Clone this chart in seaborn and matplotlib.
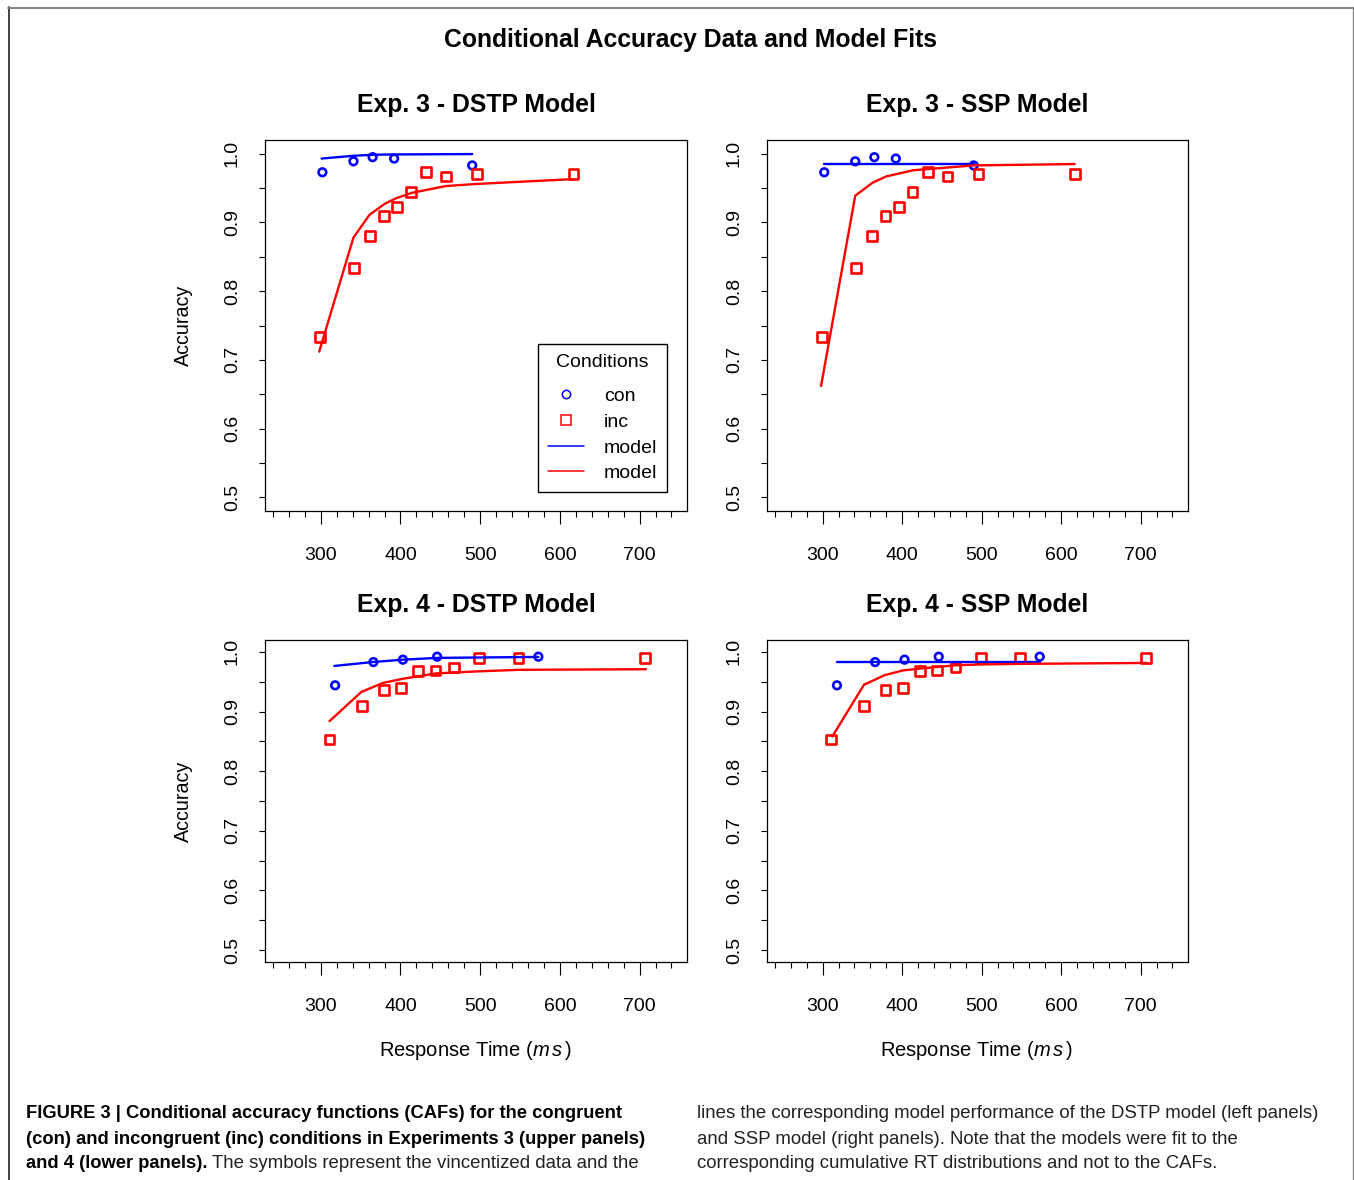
import numpy as np
import pandas as pd
import matplotlib
matplotlib.use("Agg")
import matplotlib.pyplot as plt
from matplotlib.lines import Line2D
from matplotlib.ticker import MultipleLocator, FixedLocator
import seaborn as sns

# ----------------------------------------------------------------------------
# Values (RT in ms, accuracy as proportion)
# ----------------------------------------------------------------------------
# Exp. 3 observed (vincentized) CAFs
e3_con_rt = [302, 341, 365, 392, 490]
e3_con_acc = [0.973, 0.989, 0.995, 0.993, 0.983]
e3_inc_rt = [299, 342, 362, 379, 396, 413, 432, 457, 496, 617]
e3_inc_acc = [0.733, 0.834, 0.880, 0.909, 0.923, 0.944, 0.973, 0.967, 0.970, 0.970]

# Exp. 3 DSTP model
e3_dstp_con_rt = [301, 341, 365, 392, 490]
e3_dstp_con_acc = [0.993, 0.997, 0.9985, 0.999, 0.9995]
e3_dstp_inc_rt = [298, 341, 361, 380, 394, 414, 457, 495, 616]
e3_dstp_inc_acc = [0.712, 0.878, 0.911, 0.927, 0.935, 0.943, 0.953, 0.956, 0.963]

# Exp. 3 SSP model
e3_ssp_con_rt = [302, 341, 365, 392, 490]
e3_ssp_con_acc = [0.985, 0.985, 0.985, 0.985, 0.985]
e3_ssp_inc_rt = [298, 341, 363, 380, 414, 490, 617]
e3_ssp_inc_acc = [0.662, 0.939, 0.958, 0.967, 0.976, 0.983, 0.985]

# Exp. 4 observed CAFs
e4_con_rt = [318, 366, 403, 446, 573]
e4_con_acc = [0.944, 0.983, 0.987, 0.992, 0.992]
e4_inc_rt = [311, 352, 379, 401, 422, 444, 467, 499, 548, 707]
e4_inc_acc = [0.853, 0.910, 0.936, 0.940, 0.968, 0.969, 0.974, 0.990, 0.990, 0.990]

# Exp. 4 DSTP model
e4_dstp_con_rt = [317, 365, 403, 446, 573]
e4_dstp_con_acc = [0.9765, 0.983, 0.987, 0.990, 0.9916]
e4_dstp_inc_rt = [311, 351, 378, 403, 445, 499, 549, 708]
e4_dstp_inc_acc = [0.884, 0.933, 0.948, 0.955, 0.964, 0.9675, 0.970, 0.971]

# Exp. 4 SSP model
e4_ssp_con_rt = [318, 366, 404, 446, 573]
e4_ssp_con_acc = [0.9826, 0.9826, 0.9826, 0.9826, 0.9826]
e4_ssp_inc_rt = [312, 352, 378, 401, 422, 467, 499, 549, 708]
e4_ssp_inc_acc = [0.858, 0.945, 0.961, 0.969, 0.972, 0.9776, 0.979, 0.980, 0.9815]

x_major = [300, 400, 500, 600, 700]
legend_labels = ["con", "inc", "model", "model"]

# ----------------------------------------------------------------------------
# Style
# ----------------------------------------------------------------------------
sns.set_style("ticks")
plt.rcParams['font.family'] = ['Liberation Sans', 'DejaVu Sans']
plt.rcParams['mathtext.fontset'] = 'custom'
plt.rcParams['mathtext.rm'] = 'Liberation Sans'
plt.rcParams['mathtext.it'] = 'Liberation Sans:italic'
plt.rcParams['text.color'] = 'black'
plt.rcParams['axes.labelcolor'] = 'black'
plt.rcParams['axes.titlecolor'] = 'black'

W, H = 1354, 1180
fig = plt.figure(figsize=(W / 100, H / 100), dpi=100)


def px_axes(left, top, right, bottom):
    # axes from pixel box
    return fig.add_axes([left / W, 1 - bottom / H, (right - left) / W, (bottom - top) / H])


def draw_panel(ax, con_rt, con_acc, inc_rt, inc_acc, mcon_rt, mcon_acc, minc_rt, minc_acc, title):
    sns.scatterplot(x=con_rt, y=con_acc, ax=ax, marker='o', s=30, color='blue',
                    facecolor='none', edgecolor='blue', linewidth=1.9, zorder=3)
    sns.scatterplot(x=inc_rt, y=inc_acc, ax=ax, marker='s', s=50, color='red',
                    facecolor='none', edgecolor='red', linewidth=1.9, zorder=3)
    sns.lineplot(x=mcon_rt, y=mcon_acc, ax=ax, color='blue', lw=1.7, sort=False, estimator=None, zorder=4)
    sns.lineplot(x=minc_rt, y=minc_acc, ax=ax, color='red', lw=1.7, sort=False, estimator=None, zorder=5)

    ax.set_xlim(230, 759.5)
    ax.set_ylim(0.48, 1.02)
    ax.xaxis.set_major_locator(FixedLocator(x_major))
    ax.xaxis.set_minor_locator(MultipleLocator(20))
    ax.yaxis.set_major_locator(MultipleLocator(0.1))
    ax.yaxis.set_minor_locator(MultipleLocator(0.05))
    ax.yaxis.set_major_formatter(matplotlib.ticker.FormatStrFormatter('%.1f'))

    ax.tick_params(axis='x', which='major', length=9.4, width=0.8, pad=16.5, labelsize=14, colors='black')
    ax.tick_params(axis='x', which='minor', length=4, width=0.8, colors='black')
    ax.tick_params(axis='y', which='both', length=4.3, width=0.8, pad=13, labelsize=14,
                   labelrotation=90, colors='black')
    for lab in ax.get_yticklabels():
        lab.set_va('center')
    for sp in ax.spines.values():
        sp.set_visible(True)
        sp.set_color('black')
        sp.set_linewidth(0.9)
    ax.set_xlabel('')
    ax.set_ylabel('')
    ax.set_title(title, fontsize=17.8, fontweight='bold', pad=20, color='black')


ax1 = px_axes(265, 140, 687, 511)
ax2 = px_axes(767, 140, 1188, 511)
ax3 = px_axes(265, 640, 687, 962)
ax4 = px_axes(767, 640, 1188, 962)

draw_panel(ax1, e3_con_rt, e3_con_acc, e3_inc_rt, e3_inc_acc,
           e3_dstp_con_rt, e3_dstp_con_acc, e3_dstp_inc_rt, e3_dstp_inc_acc, "Exp. 3 - DSTP Model")
draw_panel(ax2, e3_con_rt, e3_con_acc, e3_inc_rt, e3_inc_acc,
           e3_ssp_con_rt, e3_ssp_con_acc, e3_ssp_inc_rt, e3_ssp_inc_acc, "Exp. 3 - SSP Model")
draw_panel(ax3, e4_con_rt, e4_con_acc, e4_inc_rt, e4_inc_acc,
           e4_dstp_con_rt, e4_dstp_con_acc, e4_dstp_inc_rt, e4_dstp_inc_acc, "Exp. 4 - DSTP Model")
draw_panel(ax4, e4_con_rt, e4_con_acc, e4_inc_rt, e4_inc_acc,
           e4_ssp_con_rt, e4_ssp_con_acc, e4_ssp_inc_rt, e4_ssp_inc_acc, "Exp. 4 - SSP Model")

# axis labels only on the outer panels
for ax in [ax1, ax3]:
    ax.set_ylabel("Accuracy", fontsize=14.2)
    ax.yaxis.set_label_coords(-0.17, 0.5)
for xc in [476, 977]:
    fig.text(xc / W, 1 - 1051 / H, r"Response Time ($m\,s\,$)", fontsize=14.5, ha='center', va='center')

# legend in first panel
handles = [
    Line2D([], [], ls='', marker='o', ms=6, mfc='none', mec='blue', mew=1.1),
    Line2D([], [], ls='', marker='s', ms=7, mfc='none', mec='red', mew=1.1),
    Line2D([], [], color='blue', lw=1.1),
    Line2D([], [], color='red', lw=1.1),
]
leg = ax1.legend(handles, legend_labels, title="Conditions", loc='lower right',
                 bbox_to_anchor=(0.9526, 0.0512), borderaxespad=0, fontsize=14, title_fontsize=14,
                 frameon=True, fancybox=False, edgecolor='black', framealpha=1,
                 handlelength=1.9, handletextpad=1.0, labelspacing=0.42, borderpad=0.5)
leg.get_frame().set_linewidth(1.0)
leg._legend_box.sep = 12  # a bit more room under the title, like R
for t in leg.get_texts():
    t.set_color('black')

# main title
fig.text(690 / W, 1 - 40 / H, "Conditional Accuracy Data and Model Fits",
         fontsize=17.8, fontweight='bold', ha='center', va='center')

# page border
fig.add_artist(Line2D([8.5 / W, 8.5 / W], [1 - 7 / H, 0], transform=fig.transFigure, color='#333333', lw=1.3))
fig.add_artist(Line2D([8 / W, 1352.5 / W], [1 - 7.5 / H, 1 - 7.5 / H], transform=fig.transFigure, color='#777777', lw=1.3))
fig.add_artist(Line2D([1352.5 / W, 1352.5 / W], [1 - 7 / H, 0], transform=fig.transFigure, color='#888888', lw=1.0))

# caption
ys = [1114, 1139, 1164]
fig.text(26 / W, 1 - ys[0] / H, "FIGURE 3 | Conditional accuracy functions (CAFs) for the congruent",
         fontsize=13.2, fontweight='bold', va='center')
fig.text(26 / W, 1 - ys[1] / H, "(con) and incongruent (inc) conditions in Experiments 3 (upper panels)",
         fontsize=13.2, fontweight='bold', va='center')
t3 = fig.text(26 / W, 1 - ys[2] / H, "and 4 (lower panels).", fontsize=13.2, fontweight='bold', va='center')
fig.canvas.draw()
bb = t3.get_window_extent(fig.canvas.get_renderer())
fig.text((bb.x1 + 4) / W, 1 - ys[2] / H, "The symbols represent the vincentized data and the",
         fontsize=13.4, va='center', color='#222222')
right_lines = ["lines the corresponding model performance of the DSTP model (left panels)",
               "and SSP model (right panels). Note that the models were fit to the",
               "corresponding cumulative RT distributions and not to the CAFs."]
for y, line in zip(ys, right_lines):
    fig.text(697 / W, 1 - y / H, line, fontsize=13.4, va='center', color='#222222')

fig.savefig("out.png", dpi=100)
